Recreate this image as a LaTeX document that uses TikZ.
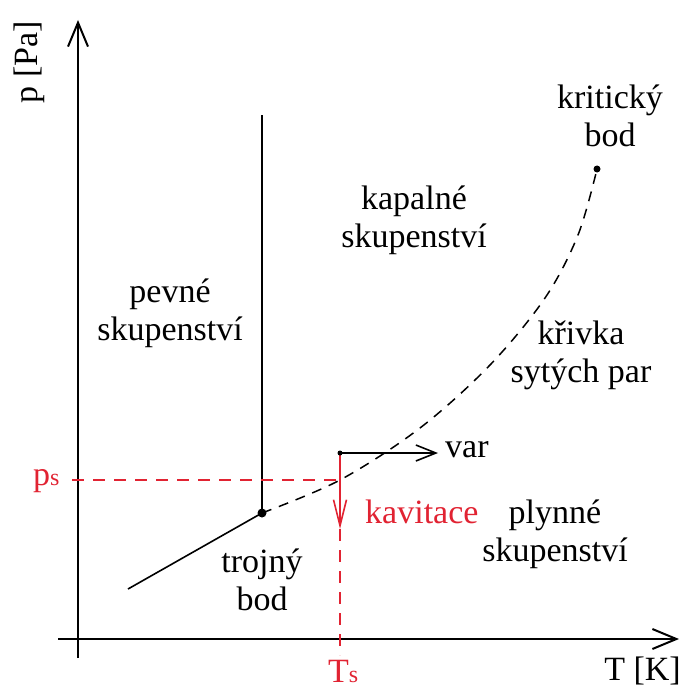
\documentclass[tikz,border=0pt]{standalone}
\usepackage{fontspec}
\setmainfont{Liberation Serif}
\usetikzlibrary{arrows.meta}
\definecolor{myred}{RGB}{225,35,50}
\begin{document}
\begin{tikzpicture}[x=1pt,y=-1pt,
  lbl/.style={font=\fontsize{34}{38}\selectfont, inner sep=0pt, align=center},
  axisline/.style={line width=2pt, -{Straight Barb[length=24pt,width=20pt,line width=2pt]}},
  thinline/.style={line width=1.6pt},
  curvedash/.style={line width=1.5pt, dash pattern=on 10pt off 8pt},
  reddash/.style={myred, line width=1.6pt, dash pattern=on 12pt off 9pt}]
\useasboundingbox (0,0) rectangle (682,695);
% axes
\coordinate (yb) at (78,658);
\coordinate (yt) at (78,20);
\coordinate (xl) at (58,639);
\coordinate (xr) at (679,639);
\draw[axisline] (yb) -- (yt);
\draw[axisline] (xl) -- (xr);
% phase boundaries
\coordinate (tp) at (262,513);
\coordinate (topv) at (262,115);
\coordinate (sl) at (128,589);
\coordinate (cp) at (597,169);
\draw[thinline] (tp) -- (topv);
\draw[thinline] (sl) -- (tp);
\draw[curvedash] plot[smooth, tension=0.55] coordinates {(262,513) (340,480) (420,428) (490,365) (545,298) (578,235) (597,169)};
\fill (tp) circle (4.5);
\fill (cp) circle (3.5);
% red guides
\coordinate (pl) at (72,480);
\coordinate (pr) at (340,480);
\coordinate (vs) at (340,453);
\coordinate (ve) at (438,453);
\coordinate (ka) at (340,529);
\coordinate (tb) at (340,655);
\draw[reddash] (pl) -- (pr);
\draw[reddash] (ka) -- (tb);
\draw[myred, line width=1.6pt, -{Straight Barb[length=26pt,width=13pt,line width=1.6pt]}] (vs) -- (ka);
\draw[line width=1.6pt, -{Straight Barb[length=20pt,width=16pt,line width=1.6pt]}] (vs) -- (ve);
\fill (vs) circle (2.5);
% labels
\node[lbl, rotate=90] (plab) at (29,62) {p [Pa]};
\node[lbl, anchor=base east] (tlab) at (681,680) {T [K]};
\node[lbl, text=myred, anchor=base west] (pslab) at (33,485) {p{\fontsize{24}{24}\selectfont s}};
\node[lbl, text=myred, anchor=base west] (tslab) at (328,682) {T{\fontsize{24}{24}\selectfont s}};
\node[lbl] (krit) at (610,115.5) {kritický\\bod};
\node[lbl] (kap) at (414,220.5) {kapalné\\skupenství};
\node[lbl] (pev) at (170,313.5) {pevné\\skupenství};
\node[lbl] (kriv) at (581,355.5) {křivka\\sytých par};
\node[lbl] (plyn) at (555,534.5) {plynné\\skupenství};
\node[lbl] (troj) at (262,580) {trojný\\bod};
\node[lbl, text=myred, anchor=base west] (kav) at (365,523) {kavitace};
\node[lbl, anchor=base west] (var) at (445,457) {var};
\end{tikzpicture}
\end{document}
